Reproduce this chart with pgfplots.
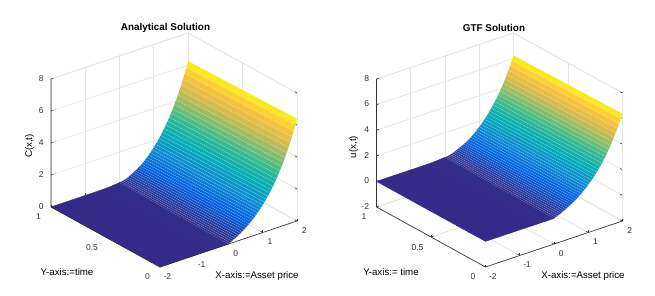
\documentclass[border=0pt]{standalone}
\usepackage{fontspec}
\setmainfont{Liberation Sans}
\usepackage{pgfplots}
\pgfplotsset{compat=1.18}
\usepackage{pgfplotstable}
\pgfplotsset{
 colormap={parula}{rgb=(0.2081,0.1663,0.5292) rgb=(0.0117,0.3875,0.8820) rgb=(0.0641,0.5570,0.8240) rgb=(0.0250,0.6800,0.7200) rgb=(0.1800,0.7300,0.5900) rgb=(0.5200,0.7500,0.4200) rgb=(0.8400,0.7300,0.3000) rgb=(0.9950,0.7650,0.2400) rgb=(0.9763,0.9831,0.0538)},
 matstyle/.style={
  colormap name=parula, clip=false, grid=major, grid style={draw=black!10,line width=0.8bp},
  axis line style={draw=black!10,line width=0.8bp},
  tick style={draw=black!80,line width=0.6bp}, major tick length=2.5bp,
  tick pos=left,
  point meta min=0, point meta max=6.39,
  xmin=-2,xmax=2,ymin=0,ymax=1,
  xtick={-2,-1,0,1,2},ytick={0,0.5,1},
  yticklabels={0,0.5,1},
  xticklabels={-2,-1,0,1,2},
  tick label style={font=\fontsize{8.5bp}{10bp}\selectfont,text=black!80},
  x tick label style={xshift=3bp,yshift=-2bp},
  y tick label style={xshift=-7.5bp,yshift=-2.5bp},
  z tick label style={xshift=-4bp},
  /pgf/number format/assume math mode=true,
  x={(34.25bp,11.5bp)},y={(-109bp,60bp)},
  anchor=origin,
 },
 lefthalf/.style={surf,shader=flat mean,mesh/ordering=y varies,mesh/rows=2},
 righthalf/.style={surf,shader=faceted,faceted color=white,draw opacity=0.3,line width=0.2bp,mesh/ordering=y varies,mesh/rows=2},
}
\pgfplotstableread[col sep=space]{
x y z
-2 0 0
-2 1 0
-1.5 0 0
-1.5 1 0
-1 0 0
-1 1 0
-0.5 0 0
-0.5 1 0.005
-0.25 0 0
-0.25 1 0.03
0 0 0
0 1 0.09
}\surfa
\pgfplotstableread[col sep=space]{
x y z
0 0 0
0 1 0.09
0.05 0 0.0513
0.05 1 0.11
0.1 0 0.1052
0.1 1 0.135
0.15 0 0.1618
0.15 1 0.165
0.2 0 0.2214
0.2 1 0.20
0.25 0 0.2840
0.25 1 0.25
0.3 0 0.3499
0.3 1 0.31
0.35 0 0.4191
0.35 1 0.37
0.4 0 0.4918
0.4 1 0.44
0.45 0 0.5683
0.45 1 0.50
0.5 0 0.6487
0.5 1 0.56
0.55 0 0.7333
0.55 1 0.63
0.6 0 0.8221
0.6 1 0.70
0.65 0 0.9155
0.65 1 0.7755
0.7 0 1.0138
0.7 1 0.8738
0.75 0 1.1170
0.75 1 0.9770
0.8 0 1.2255
0.8 1 1.0855
0.85 0 1.3397
0.85 1 1.1997
0.9 0 1.4596
0.9 1 1.3196
0.95 0 1.5857
0.95 1 1.4457
1 0 1.7183
1 1 1.5783
1.05 0 1.8577
1.05 1 1.7177
1.1 0 2.0042
1.1 1 1.8642
1.15 0 2.1582
1.15 1 2.0182
1.2 0 2.3201
1.2 1 2.1801
1.25 0 2.4903
1.25 1 2.3503
1.3 0 2.6693
1.3 1 2.5293
1.35 0 2.8574
1.35 1 2.7174
1.4 0 3.0552
1.4 1 2.9152
1.45 0 3.2631
1.45 1 3.1231
1.5 0 3.4817
1.5 1 3.3417
1.55 0 3.7115
1.55 1 3.5715
1.6 0 3.9530
1.6 1 3.8130
1.65 0 4.2070
1.65 1 4.0670
1.7 0 4.4739
1.7 1 4.3339
1.75 0 4.7546
1.75 1 4.6146
1.8 0 5.0497
1.8 1 4.9097
1.85 0 5.3598
1.85 1 5.2198
1.9 0 5.6859
1.9 1 5.5459
1.95 0 6.0287
1.95 1 5.8887
2 0 6.3891
2 1 6.2491
}\surfb
\begin{document}
\begin{tikzpicture}[x=1bp,y=1bp]
\path[use as bounding box] (0,0) rectangle (655,295);
\begin{axis}[matstyle,at={(228.5bp,51bp)},z={(0bp,16bp)},zmin=0,zmax=8,ztick={0,2,4,6,8}]
\addplot3[lefthalf] table[x=x,y=y,z=z] {\surfa};
\addplot3[righthalf] table[x=x,y=y,z=z] {\surfb};
\draw[black!80,line width=0.6bp] (axis cs:-2,1,8)--(axis cs:-2,1,0)--(axis cs:-2,0,0)--(axis cs:2,0,0);
\end{axis}
\begin{axis}[matstyle,at={(554bp,76.6bp)},z={(0bp,12.8bp)},zmin=-2,zmax=8,ztick={-2,0,2,4,6,8}]
\addplot3[lefthalf] table[x=x,y=y,z=z] {\surfa};
\addplot3[righthalf] table[x=x,y=y,z=z] {\surfb};
\draw[black!80,line width=0.6bp] (axis cs:-2,1,8)--(axis cs:-2,1,-2)--(axis cs:-2,0,-2)--(axis cs:2,0,-2);
\end{axis}
\node[font=\bfseries\fontsize{9.9bp}{10bp}\selectfont] at (165.5,267) {Analytical Solution};
\node[font=\bfseries\fontsize{9.9bp}{10bp}\selectfont] at (494,267) {GTF Solution};
\node[font=\fontsize{9.7bp}{10bp}\selectfont,rotate=90] at (29.5,149) {C(x,t)};
\node[font=\fontsize{9.7bp}{10bp}\selectfont,rotate=90] at (353.5,148) {u(x,t)};
\node[font=\fontsize{9.7bp}{10bp}\selectfont] at (67,23) {Y-axis:=time};
\node[font=\fontsize{9.7bp}{10bp}\selectfont] at (257,19) {X-axis:=Asset price};
\node[font=\fontsize{9.7bp}{10bp}\selectfont] at (391,23) {Y-axis:= time};
\node[font=\fontsize{9.7bp}{10bp}\selectfont] at (583,19) {X-axis:=Asset price};
\end{tikzpicture}
\end{document}
